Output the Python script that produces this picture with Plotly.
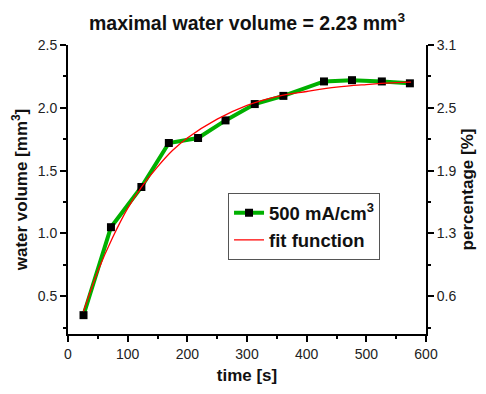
import plotly.graph_objects as go

# measured water volume over time
time_s = [26, 72, 123, 169, 218, 264, 313, 361, 429, 476, 526, 573]
volume_mm3 = [0.35, 1.05, 1.37, 1.72, 1.76, 1.90, 2.03, 2.095, 2.21, 2.22, 2.21, 2.195]

# fitted saturation curve
fit_time = [26, 50, 75, 100, 125, 150, 175, 200, 250, 300, 350, 400, 450, 500, 550, 575]
fit_volume = [0.38, 0.70, 0.97, 1.20, 1.38, 1.53, 1.66, 1.76, 1.91, 2.02, 2.09, 2.13, 2.165, 2.185, 2.20, 2.205]

# axis ticks
x_ticks = [0, 100, 200, 300, 400, 500, 600]
y_ticks = [0.5, 1.0, 1.5, 2.0, 2.5]
y_minor = [0.25, 0.75, 1.25, 1.75, 2.25]
pct_labels = ["0.6", "1.3", "1.9", "2.5", "3.1"]

FONT = "Liberation Sans, Arial, sans-serif"
GREEN = "#00b000"

fig = go.Figure()
fig.add_trace(go.Scatter(
    x=time_s, y=volume_mm3, mode="lines+markers",
    name="<b>500 mA/cm<sup>3</sup></b>",
    line=dict(color=GREEN, width=4),
    marker=dict(symbol="square", size=8, color="black"),
))
fig.add_trace(go.Scatter(
    x=fit_time, y=fit_volume, mode="lines", line_shape="spline",
    name="<b>fit function</b>",
    line=dict(color="red", width=1.3),
))
# invisible trace to carry the right-hand percentage axis
fig.add_trace(go.Scatter(x=[None], y=[None], yaxis="y2", showlegend=False, hoverinfo="skip"))

axis_common = dict(
    showline=True, linecolor="black", linewidth=2, mirror=False,
    ticks="outside", ticklen=6, tickwidth=1.5, tickcolor="black",
    showgrid=False, zeroline=False,
    tickfont=dict(family=FONT, size=14, color="#222"),
)

fig.update_layout(
    width=486, height=394,
    margin=dict(l=68, r=58, t=45, b=58),
    paper_bgcolor="white", plot_bgcolor="white",
    title=dict(text="<b>maximal water volume = 2.23 mm<sup>3</sup></b>",
               x=0.5, xref="paper", xanchor="center", y=0.94, yanchor="middle",
               font=dict(family=FONT, size=19.5, color="#111")),
    xaxis=dict(range=[0, 600], tickmode="array", tickvals=x_ticks,
               minor=dict(dtick=50, tick0=0, ticks="outside", ticklen=3, tickwidth=1.5, tickcolor="black"),
               title=dict(text="<b>time [s]</b>", font=dict(family=FONT, size=17, color="#111"), standoff=8),
               **axis_common),
    yaxis=dict(range=[0.2, 2.5], tickmode="array", tickvals=y_ticks, tickformat=".1f",
               minor=dict(tickmode="array", tickvals=y_minor, ticks="outside", ticklen=3, tickwidth=1.5, tickcolor="black"),
               title=dict(text="<b>water volume [mm<sup>3</sup>]</b>", font=dict(family=FONT, size=17, color="#111"), standoff=6),
               **axis_common),
    yaxis2=dict(range=[0.2, 2.5], overlaying="y", side="right", anchor="x",
                tickmode="array", tickvals=y_ticks, ticktext=pct_labels,
                minor=dict(tickmode="array", tickvals=y_minor, ticks="outside", ticklen=3, tickwidth=1.5, tickcolor="black"),
                title=dict(text="<b>percentage [%]</b>", font=dict(family=FONT, size=17, color="#111"), standoff=6),
                **axis_common),
    legend=dict(x=0.447, y=0.487, xanchor="left", yanchor="top",
                bordercolor="#555", borderwidth=1, bgcolor="white",
                font=dict(family=FONT, size=18.5, color="#111"),
                tracegroupgap=0, itemwidth=30),
    showlegend=True,
)

fig.write_html("out.html")
